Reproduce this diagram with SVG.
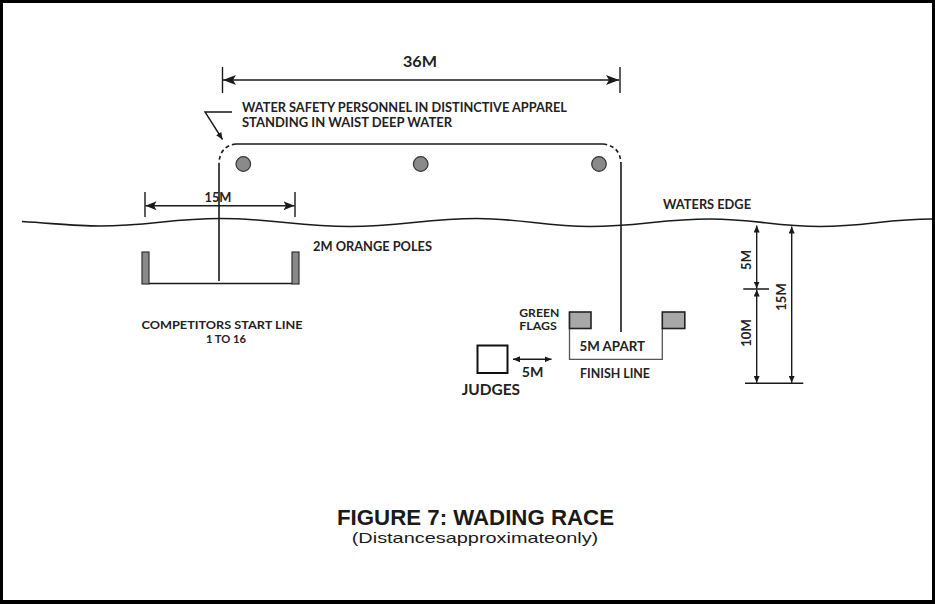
<svg xmlns="http://www.w3.org/2000/svg" width="935" height="604" viewBox="0 0 935 604">
<style>
.t{font-family:"Lato","Open Sans","Liberation Sans",sans-serif;font-weight:700;fill:#222;}
.ln{stroke:#1a1a1a;stroke-width:1.6;fill:none;}
.dim{stroke:#1a1a1a;stroke-width:1.4;fill:none;}
.buoy{fill:#8a8a8a;stroke:#333;stroke-width:1.2;}
.pole{fill:#8a8a8a;stroke:#333;stroke-width:1.2;}
.flag{fill:#a8a8a8;stroke:#222;stroke-width:1.6;}
</style>
<defs>
<marker id="aL" markerUnits="userSpaceOnUse" markerWidth="14" markerHeight="12" refX="13" refY="6" orient="auto-start-reverse" viewBox="0 0 14 12"><path d="M0,1 L13,6 L0,11 L3,6 Z" fill="#1a1a1a"/></marker>
<marker id="aM" markerUnits="userSpaceOnUse" markerWidth="12" markerHeight="10" refX="11" refY="5" orient="auto-start-reverse" viewBox="0 0 12 10"><path d="M0,0.5 L11,5 L0,9.5 L2.5,5 Z" fill="#1a1a1a"/></marker>
<marker id="aS" markerUnits="userSpaceOnUse" markerWidth="8" markerHeight="6" refX="7" refY="3" orient="auto-start-reverse" viewBox="0 0 8 6"><path d="M0,0 L7,3 L0,6 Z" fill="#1a1a1a"/></marker>
</defs>
<rect width="935" height="604" fill="#fff"/>
<path d="M0,0H935V604H0Z M3,3V600H932V3Z" fill="#000" fill-rule="evenodd"/>

<g id="water-edge">
<path class="ln" stroke-width="1.5" d="M22,221.5 C55,223.5 75,226 100,226 C148,226 172,218.5 220,218.5 C272,218.5 298,226.5 350,226.5 C401,226.5 426,218.5 477,218.5 C522,218.5 545,226.5 590,226.5 C638,226.5 662,219 710,219 C754,219 776,226.5 820,226.5 C865,226.5 887,219 932,219"/>
<text class="t" x="663" y="208.5" font-size="13" textLength="88" lengthAdjust="spacingAndGlyphs">WATERS EDGE</text>
</g>

<g id="connectors">
<path class="ln" d="M236,144 H603"/>
<path class="ln" stroke-dasharray="4,3" d="M236,144 Q219,146 219,165"/>
<path class="ln" stroke-dasharray="4,3" d="M603,144 Q621,146 621,165"/>
<path class="ln" d="M219,165 V281"/>
<path class="ln" d="M621,165 V332"/>
<path class="dim" stroke-width="1.2" d="M232,112 H205 L222.5,139.5" marker-end="url(#aS)"/>
</g>

<g id="dim-36m">
<path class="dim" d="M222.5,67 V93 M620,67 V93"/>
<path class="dim" d="M223,80 H619" marker-start="url(#aL)" marker-end="url(#aL)"/>
<text class="t" x="420" y="66.5" font-size="15" text-anchor="middle" textLength="34" lengthAdjust="spacingAndGlyphs">36M</text>
</g>

<g id="safety-label">
<text class="t" x="242" y="111.5" font-size="12.8" textLength="325" lengthAdjust="spacingAndGlyphs">WATER SAFETY PERSONNEL IN DISTINCTIVE APPAREL</text>
<text class="t" x="242" y="126.9" font-size="12.8" textLength="210" lengthAdjust="spacingAndGlyphs">STANDING IN WAIST DEEP WATER</text>
</g>

<g id="safety-personnel">
<circle class="buoy" cx="243.3" cy="164" r="7.3"/>
<circle class="buoy" cx="420.7" cy="164" r="7.3"/>
<circle class="buoy" cx="599" cy="164" r="7.3"/>
</g>

<g id="dim-15m-start">
<path class="dim" d="M145,192 V217 M295,192 V217"/>
<path class="dim" d="M145.5,205.7 H294.5" marker-start="url(#aM)" marker-end="url(#aM)"/>
<text class="t" x="218" y="201.8" font-size="13" text-anchor="middle" textLength="27" lengthAdjust="spacingAndGlyphs">15M</text>
</g>

<g id="start-line">
<path class="ln" stroke-width="1.4" d="M149,283.5 H292"/>
<rect class="pole" x="142" y="252" width="7" height="32"/>
<rect class="pole" x="292" y="252" width="7" height="32"/>
<text class="t" x="313" y="251" font-size="12.5" textLength="119" lengthAdjust="spacingAndGlyphs">2M ORANGE POLES</text>
<text class="t" x="222" y="329" font-size="11.2" text-anchor="middle" textLength="161" lengthAdjust="spacingAndGlyphs">COMPETITORS START LINE</text>
<text class="t" x="226" y="342.7" font-size="11.2" text-anchor="middle" textLength="40" lengthAdjust="spacingAndGlyphs">1 TO 16</text>
</g>

<g id="finish-line">
<path stroke="#555" stroke-width="1.3" fill="none" d="M569.5,312 V359.3 H662.3 V328"/>
<rect class="flag" x="569.5" y="312" width="21.5" height="16.5"/>
<rect class="flag" x="662.3" y="312" width="22.5" height="16.5"/>
<text class="t" x="519.3" y="316.5" font-size="11" textLength="40" lengthAdjust="spacingAndGlyphs">GREEN</text>
<text class="t" x="519.3" y="330" font-size="11" textLength="37.5" lengthAdjust="spacingAndGlyphs">FLAGS</text>
<text class="t" x="579.5" y="350.7" font-size="13" textLength="65.5" lengthAdjust="spacingAndGlyphs">5M APART</text>
<text class="t" x="580" y="378.3" font-size="13" textLength="70" lengthAdjust="spacingAndGlyphs">FINISH LINE</text>
</g>

<g id="judges">
<rect x="477.5" y="345.5" width="30" height="27.5" fill="#fff" stroke="#111" stroke-width="2"/>
<path class="dim" stroke-width="1.2" d="M513,359.3 H551.5" marker-start="url(#aS)" marker-end="url(#aS)"/>
<text class="t" x="521.7" y="376.7" font-size="13" textLength="21.6" lengthAdjust="spacingAndGlyphs">5M</text>
<text class="t" x="461.7" y="395" font-size="16" textLength="58.3" lengthAdjust="spacingAndGlyphs">JUDGES</text>
</g>

<g id="depth-dims">
<path class="dim" d="M743.3,289 H769 M745,383.3 H803.3"/>
<path class="dim" d="M756.7,225.5 V288.5" marker-start="url(#aS)" marker-end="url(#aS)"/>
<path class="dim" d="M756.7,289.5 V382.8" marker-start="url(#aS)" marker-end="url(#aS)"/>
<path class="dim" d="M791.7,226.5 V382.8" marker-start="url(#aS)" marker-end="url(#aS)"/>
<text class="t" font-size="13" text-anchor="middle" transform="translate(751,260) rotate(-90)">5M</text>
<text class="t" font-size="13" text-anchor="middle" transform="translate(751,333) rotate(-90)">10M</text>
<text class="t" font-size="13" text-anchor="middle" transform="translate(786,297) rotate(-90)">15M</text>
</g>

<g id="caption">
<text x="475.5" y="525.3" font-family="'Liberation Sans','Roboto',sans-serif" font-weight="bold" font-size="21.5" fill="#1a1a1a" text-anchor="middle" textLength="277" lengthAdjust="spacingAndGlyphs">FIGURE 7: WADING RACE</text>
<text x="475" y="543" font-family="'Liberation Sans','Roboto',sans-serif" font-size="14.5" fill="#1a1a1a" text-anchor="middle" textLength="246.5" lengthAdjust="spacingAndGlyphs">(Distancesapproximateonly)</text>
</g>
</svg>
